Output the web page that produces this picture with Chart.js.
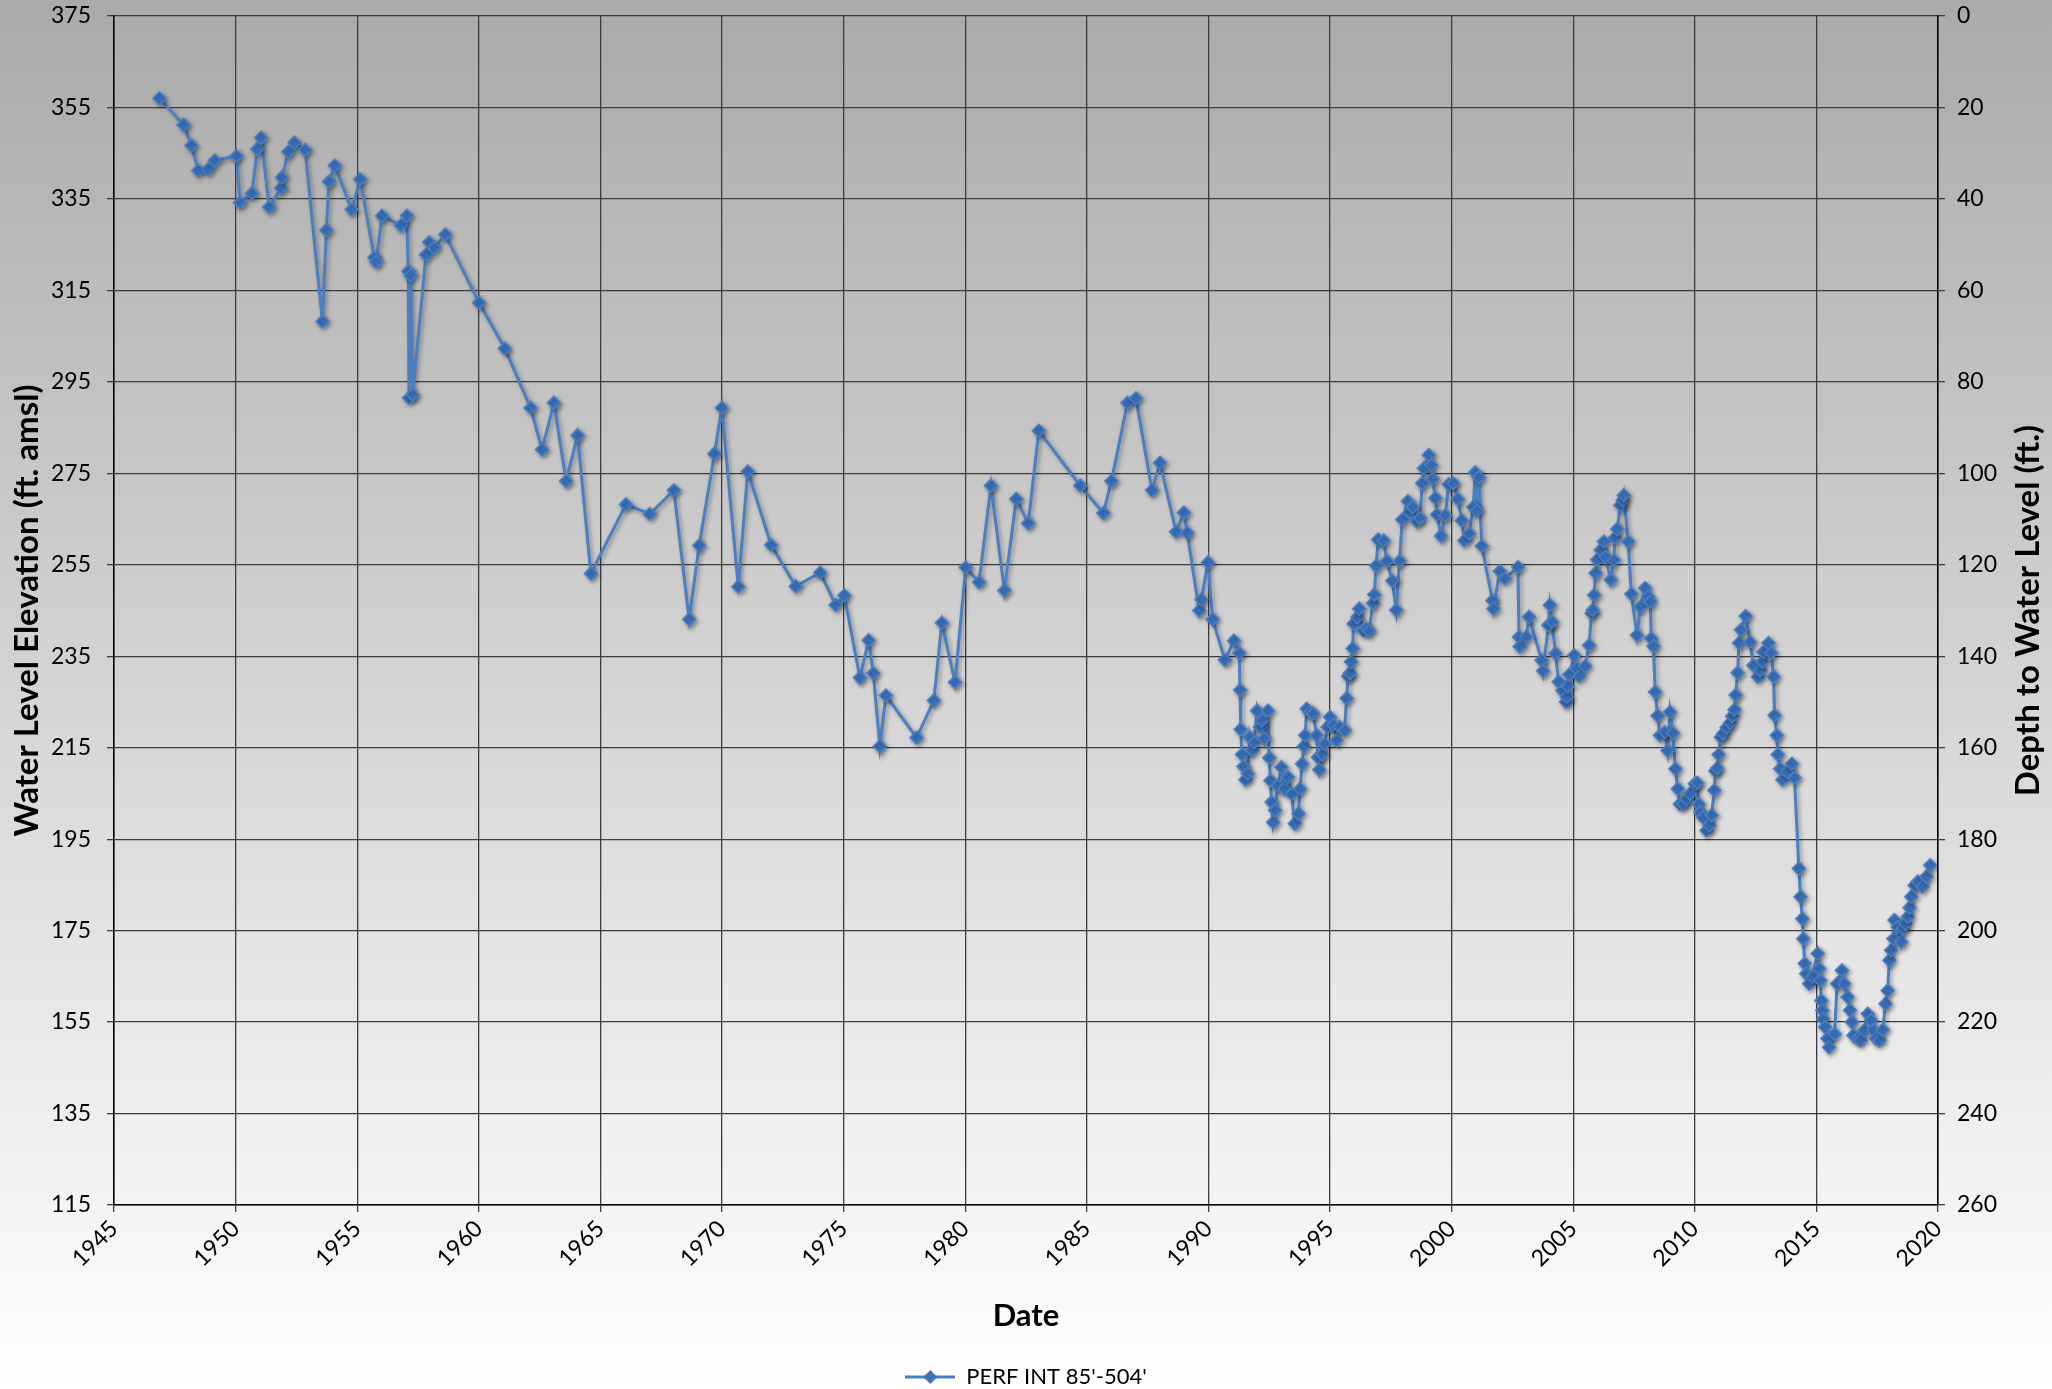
<!DOCTYPE html>
<html>
<head>
<meta charset="utf-8">
<script src="https://cdn.jsdelivr.net/npm/chart.js@4.4.1/dist/chart.umd.min.js"></script>
<style>
  html, body { margin: 0; padding: 0; background: #fff; }
  #chartContainer { position: relative; width: 2052px; height: 1389px; }
</style>
</head>
<body>
<div id="chartContainer"><canvas id="myChart"></canvas></div>
<script>
// Messdaten: Datum (Dezimaljahr) und Wasserstand (ft. amsl)
var years = [
  1946.87, 1947.86, 1948.18, 1948.46, 1948.87, 1949.14, 1950.04, 1950.18, 1950.67, 1950.89,
  1951.05, 1951.38, 1951.87, 1951.9, 1952.17, 1952.42, 1952.86, 1953.57, 1953.73, 1953.84,
  1954.08, 1954.77, 1955.12, 1955.7, 1955.78, 1956.02, 1956.79, 1957.04, 1957.1, 1957.13,
  1957.2, 1957.28, 1957.83, 1957.96, 1958.16, 1958.62, 1960.01, 1961.07, 1962.13, 1962.6,
  1963.09, 1963.59, 1964.06, 1964.61, 1966.05, 1967.03, 1968.02, 1968.65, 1969.06, 1969.69,
  1969.99, 1970.67, 1971.06, 1972.02, 1973.03, 1974.04, 1974.67, 1975.03, 1975.67, 1976.03,
  1976.22, 1976.49, 1976.74, 1978.0, 1978.71, 1979.04, 1979.58, 1980.02, 1980.57, 1981.06,
  1981.61, 1982.1, 1982.59, 1983.03, 1984.73, 1985.68, 1986.01, 1986.67, 1987.02, 1987.68,
  1988.01, 1988.67, 1988.99, 1989.13, 1989.62, 1989.71, 1989.98, 1990.17, 1990.68, 1991.05,
  1991.27, 1991.3, 1991.33, 1991.38, 1991.44, 1991.52, 1991.62, 1991.7, 1991.8, 1991.88,
  1992.0, 1992.12, 1992.2, 1992.3, 1992.45, 1992.5, 1992.55, 1992.6, 1992.66, 1992.74,
  1992.85, 1993.0, 1993.12, 1993.27, 1993.42, 1993.55, 1993.7, 1993.77, 1993.85, 1993.93,
  1993.98, 1994.04, 1994.18, 1994.3, 1994.45, 1994.5, 1994.56, 1994.68, 1994.78, 1994.9,
  1995.0, 1995.13, 1995.26, 1995.4, 1995.6, 1995.68, 1995.75, 1995.82, 1995.86, 1995.93,
  1995.97, 1996.12, 1996.2, 1996.36, 1996.5, 1996.6, 1996.77, 1996.82, 1996.9, 1996.98,
  1997.2, 1997.34, 1997.56, 1997.72, 1997.86, 1997.97, 1998.2, 1998.27, 1998.4, 1998.57,
  1998.7, 1998.79, 1998.86, 1999.06, 1999.16, 1999.22, 1999.33, 1999.4, 1999.56, 1999.74,
  1999.88, 2000.07, 2000.25, 2000.42, 2000.52, 2000.72, 2000.89, 2000.97, 2001.04, 2001.12,
  2001.24, 2001.68, 2001.72, 2001.98, 2002.19, 2002.73, 2002.77, 2002.8, 2003.07, 2003.18,
  2003.7, 2003.76, 2003.98, 2004.04, 2004.13, 2004.27, 2004.4, 2004.55, 2004.7, 2004.74,
  2004.78, 2004.84, 2005.04, 2005.14, 2005.24, 2005.49, 2005.65, 2005.76, 2005.8, 2005.86,
  2005.92, 2005.99, 2006.13, 2006.26, 2006.33, 2006.54, 2006.67, 2006.72, 2006.81, 2006.94,
  2007.04, 2007.08, 2007.26, 2007.39, 2007.62, 2007.76, 2007.96, 2008.07, 2008.17, 2008.21,
  2008.3, 2008.37, 2008.47, 2008.57, 2008.77, 2008.88, 2008.98, 2009.1, 2009.2, 2009.3,
  2009.38, 2009.52, 2009.66, 2009.8, 2010.0, 2010.1, 2010.16, 2010.22, 2010.34, 2010.48,
  2010.6, 2010.69, 2010.8, 2010.85, 2010.92, 2010.98, 2011.07, 2011.17, 2011.31, 2011.45,
  2011.54, 2011.63, 2011.68, 2011.76, 2011.82, 2011.9, 2012.09, 2012.27, 2012.41, 2012.59,
  2012.69, 2012.78, 2012.82, 2013.03, 2013.14, 2013.24, 2013.28, 2013.37, 2013.41, 2013.51,
  2013.6, 2013.79, 2013.99, 2014.1, 2014.28, 2014.35, 2014.42, 2014.46, 2014.52, 2014.58,
  2014.7, 2014.83, 2015.05, 2015.11, 2015.16, 2015.2, 2015.24, 2015.28, 2015.36, 2015.45,
  2015.52, 2015.75, 2015.85, 2016.05, 2016.14, 2016.28, 2016.38, 2016.46, 2016.52, 2016.7,
  2016.8, 2016.97, 2017.11, 2017.25, 2017.34, 2017.45, 2017.59, 2017.73, 2017.84, 2017.93,
  2018.0, 2018.07, 2018.17, 2018.21, 2018.35, 2018.48, 2018.55, 2018.66, 2018.76, 2018.83,
  2018.9, 2019.04, 2019.17, 2019.35, 2019.52, 2019.68
];
var elevations = [
  357.0, 351.2, 346.7, 341.2, 341.5, 343.4, 344.4, 334.2, 336.2, 345.9,
  348.4, 333.2, 337.4, 339.7, 345.3, 347.3, 345.7, 308.2, 328.2, 338.8,
  342.3, 332.7, 339.3, 322.2, 321.2, 331.3, 329.2, 331.3, 319.2, 291.5,
  318.3, 292.2, 322.8, 325.5, 324.3, 327.2, 312.3, 302.3, 289.3, 280.2,
  290.4, 273.3, 283.3, 253.1, 268.2, 266.1, 271.3, 243.1, 259.2, 279.3,
  289.3, 250.2, 275.4, 259.3, 250.3, 253.3, 246.2, 248.3, 230.3, 238.5,
  231.3, 215.3, 226.4, 217.2, 225.3, 242.3, 229.3, 254.4, 251.2, 272.3,
  249.4, 269.4, 264.1, 284.3, 272.3, 266.3, 273.3, 290.4, 291.4, 271.3,
  277.3, 262.2, 266.4, 262.0, 245.0, 247.4, 255.5, 243.1, 234.2, 238.4,
  235.7, 227.6, 219.0, 213.5, 210.9, 208.0, 209.3, 217.3, 214.5, 216.2,
  223.1, 219.5, 220.9, 217.0, 223.1, 212.8, 207.8, 203.1, 198.7, 201.3,
  206.7, 210.7, 206.0, 208.6, 204.9, 198.4, 200.6, 206.0, 211.5, 215.3,
  217.7, 223.5, 222.8, 222.4, 217.7, 212.9, 210.2, 213.5, 215.8, 219.5,
  221.7, 220.0, 216.6, 219.5, 218.8, 225.8, 230.6, 231.3, 233.8, 236.7,
  242.1, 243.5, 245.4, 240.7, 241.0, 240.5, 246.6, 248.5, 254.8, 260.5,
  260.3, 255.8, 251.5, 245.1, 255.8, 264.9, 268.9, 266.5, 267.6, 264.5,
  265.2, 272.8, 276.1, 279.0, 276.8, 273.8, 269.6, 266.0, 261.3, 265.8,
  272.6, 272.8, 269.4, 264.7, 260.3, 261.8, 267.6, 275.2, 266.8, 274.1,
  259.1, 247.2, 245.4, 253.6, 252.0, 254.5, 239.2, 237.1, 239.2, 243.6,
  234.1, 231.8, 241.8, 246.2, 242.5, 235.6, 229.4, 227.5, 225.0, 226.1,
  228.4, 231.0, 235.2, 232.3, 230.6, 232.8, 237.4, 244.4, 245.1, 248.4,
  253.2, 256.1, 258.2, 260.1, 256.7, 251.7, 256.0, 260.9, 262.8, 268.0,
  269.1, 270.2, 260.1, 248.6, 239.6, 245.8, 249.9, 248.0, 246.9, 238.9,
  237.2, 227.2, 222.0, 217.7, 218.4, 214.4, 222.8, 218.2, 210.4, 206.0,
  202.7, 202.7, 203.8, 204.9, 207.1, 207.3, 202.7, 200.9, 199.8, 196.9,
  198.0, 200.2, 205.7, 209.9, 210.5, 213.5, 217.3, 218.1, 219.4, 220.4,
  221.9, 223.3, 226.5, 231.4, 237.9, 240.8, 243.8, 238.1, 233.0, 230.5,
  231.9, 233.8, 235.9, 237.9, 235.7, 230.5, 222.1, 217.7, 213.5, 210.4,
  208.0, 209.7, 211.5, 208.4, 188.6, 182.4, 177.6, 173.2, 167.8, 165.6,
  163.4, 164.9, 170.0, 166.7, 164.1, 159.7, 157.6, 155.7, 153.9, 151.4,
  149.5, 152.4, 163.4, 166.3, 163.4, 160.5, 157.6, 155.0, 152.1, 151.4,
  151.0, 153.2, 156.8, 155.4, 153.2, 151.4, 151.0, 153.3, 159.0, 161.9,
  168.5, 170.7, 173.2, 177.3, 175.8, 172.5, 175.4, 176.5, 178.0, 180.0,
  182.4, 184.9, 185.7, 184.6, 186.8, 189.3
];
var seriesName = "PERF INT 85'-504'";

// Achsen
var xMin = 1945, xMax = 2020, xStep = 5;
var yMin = 115, yMax = 375, yStep = 20;
var depthMin = 0, depthMax = 260, depthStep = 20;

var points = years.map(function (y, i) { return { x: y, y: elevations[i] }; });

var FONT = "Lato, 'Open Sans', sans-serif";
var LINE_COLOR = '#4a7fc4';

// Hintergrund mit Verlauf (grau oben, weiss unten)
var bgPlugin = {
    id: 'bgGradient',
    beforeDraw: function (chart) {
        var ctx = chart.ctx;
        var g = ctx.createLinearGradient(0, 0, 0, chart.height);
        g.addColorStop(0, '#aaaaaa');
        g.addColorStop(1, '#ffffff');
        ctx.save();
        ctx.fillStyle = g;
        ctx.fillRect(0, 0, chart.width, chart.height);
        ctx.restore();
    }
};

// Schatten unter der Linie
var shadowPlugin = {
    id: 'lineShadow',
    beforeDatasetsDraw: function (chart) {
        var ctx = chart.ctx;
        ctx.save();
        ctx.shadowColor = 'rgba(0,0,0,0.35)';
        ctx.shadowBlur = 4;
        ctx.shadowOffsetX = 2;
        ctx.shadowOffsetY = 2;
    },
    afterDatasetsDraw: function (chart) {
        chart.ctx.restore();
    }
};

// Titel der rechten Achse (von unten nach oben lesbar)
var rightTitlePlugin = {
    id: 'rightTitle',
    afterDraw: function (chart) {
        var ctx = chart.ctx;
        var area = chart.chartArea;
        ctx.save();
        ctx.translate(2028, (area.top + area.bottom) / 2);
        ctx.rotate(-Math.PI / 2);
        ctx.font = 'bold 33px ' + FONT;
        ctx.fillStyle = '#000';
        ctx.textAlign = 'center';
        ctx.textBaseline = 'middle';
        ctx.fillText('Depth to Water Level (ft.)', 0, 0);
        ctx.restore();
    }
};

// Legendensymbol: Linie mit Raute
var legendIcon = document.createElement('canvas');
legendIcon.width = 50;
legendIcon.height = 16;
(function () {
    var c = legendIcon.getContext('2d');
    c.strokeStyle = LINE_COLOR;
    c.lineWidth = 3;
    c.beginPath();
    c.moveTo(0, 8);
    c.lineTo(50, 8);
    c.stroke();
    c.fillStyle = '#3b73bf';
    c.beginPath();
    c.moveTo(25, 1);
    c.lineTo(32, 8);
    c.lineTo(25, 15);
    c.lineTo(18, 8);
    c.closePath();
    c.fill();
})();

// vertikale Achsen: feste Breite, wenig Innenabstand oben/unten
function fixVertical(scale) {
    scale.width = 114;
    scale.paddingTop = 12;
    scale.paddingBottom = 12;
}

var ctx = document.getElementById('myChart').getContext('2d');
var myChart = new Chart(ctx, {
    type: 'line',
    data: {
        datasets: [{
            label: seriesName,
            data: points,
            borderColor: LINE_COLOR,
            borderWidth: 3,
            backgroundColor: '#3b73bf',
            pointStyle: 'rectRot',
            pointRadius: 6.5,
            pointBorderColor: '#4a7fc4',
            pointBorderWidth: 1.5,
            pointBackgroundColor: '#3b73bf',
            tension: 0,
            fill: false,
            yAxisID: 'y'
        }]
    },
    options: {
        responsive: true,
        maintainAspectRatio: false,
        animation: false,
        layout: { padding: { top: 16, left: 0, right: 0, bottom: -9 } },
        plugins: {
            tooltip: { enabled: false },
            legend: {
                position: 'bottom',
                labels: {
                    color: '#000',
                    font: { family: FONT, size: 22 },
                    usePointStyle: true,
                    pointStyleWidth: 50,
                    padding: 4,
                    generateLabels: function (chart) {
                        var items = Chart.defaults.plugins.legend.labels.generateLabels(chart);
                        items.forEach(function (it) { it.pointStyle = legendIcon; });
                        return items;
                    }
                }
            }
        },
        scales: {
            x: {
                type: 'linear',
                min: xMin,
                max: xMax,
                afterFit: function (scale) { scale.height = 157; },
                ticks: {
                    stepSize: xStep,
                    minRotation: 45,
                    maxRotation: 45,
                    color: '#000',
                    font: { family: FONT, size: 23 },
                    callback: function (v) { return String(v); }
                },
                grid: { color: '#3c3c3c', lineWidth: 1.3, tickLength: 7 },
                border: { color: '#000', width: 1.5 },
                title: {
                    display: true,
                    text: 'Date',
                    color: '#000',
                    font: { family: FONT, size: 31, weight: 'bold' },
                    padding: { top: 0, bottom: 27 }
                }
            },
            y: {
                position: 'left',
                min: yMin,
                max: yMax,
                afterFit: fixVertical,
                ticks: {
                    stepSize: yStep,
                    color: '#000',
                    font: { family: FONT, size: 23 },
                    padding: 16
                },
                grid: { color: '#3c3c3c', lineWidth: 1.3, tickLength: 7 },
                border: { color: '#000', width: 1.5 },
                title: {
                    display: true,
                    text: 'Water Level Elevation (ft. amsl)',
                    color: '#000',
                    font: { family: FONT, size: 33, weight: 'bold' },
                    padding: { top: 8, bottom: 0 }
                }
            },
            y2: {
                position: 'right',
                display: true,
                reverse: true,
                min: depthMin,
                max: depthMax,
                afterFit: fixVertical,
                ticks: {
                    stepSize: depthStep,
                    color: '#000',
                    font: { family: FONT, size: 23 },
                    padding: 12
                },
                grid: { drawOnChartArea: false, color: '#3c3c3c', lineWidth: 1.3, tickLength: 7 },
                border: { color: '#000', width: 1.5 }
            }
        }
    },
    plugins: [bgPlugin, shadowPlugin, rightTitlePlugin]
});
</script>
</body>
</html>
